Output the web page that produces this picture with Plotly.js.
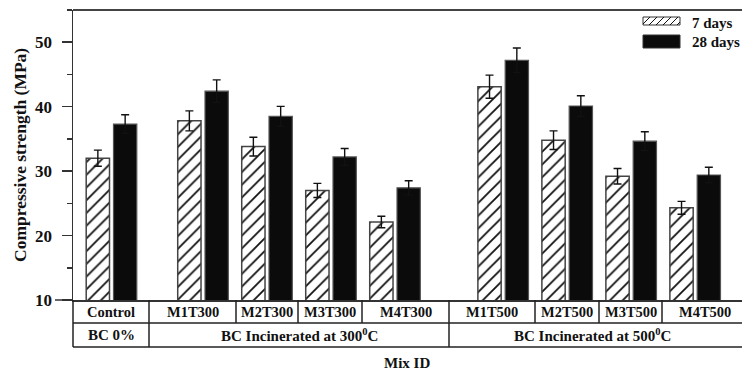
<!DOCTYPE html>
<html>
<head>
<meta charset="utf-8">
<script src="https://cdn.plot.ly/plotly-3.0.1.min.js"></script>
<style>html,body{margin:0;padding:0;overflow:hidden;background:#fff}#chart{width:760px;height:372px}</style>
</head>
<body>
<div id="chart"></div>
<script>
// ---- data ----
const mixIds = ["Control","M1T300","M2T300","M3T300","M4T300","M1T500","M2T500","M3T500","M4T500"];
const groupLabels = ["BC 0%","BC Incinerated at 300<sup>0</sup>C","BC Incinerated at 500<sup>0</sup>C"];
const days7 = [32.0, 37.8, 33.8, 27.0, 22.1, 43.1, 34.8, 29.2, 24.3];
const days7Err = [1.25, 1.55, 1.45, 1.1, 0.9, 1.8, 1.45, 1.2, 1.0];
const days28 = [37.3, 42.4, 38.5, 32.2, 27.4, 47.2, 40.1, 34.65, 29.4];
const days28Err = [1.45, 1.75, 1.55, 1.3, 1.1, 1.9, 1.6, 1.45, 1.2];
const seriesNames = ["7 days","28 days"];

// ---- layout geometry (pixels) ----
const W = 760, H = 372, L = 73, T = 10, B = 300;
const unitPx = 64, originPx = 111.5;
const xPos = [0, 1.43, 2.43, 3.43, 4.43, 6.12, 7.12, 8.12, 9.12];
const cellEdgesPx = [73, 149, 236, 298, 362, 449, 535, 599, 662, 748];
const groupEdgesPx = [73, 149, 449, 735];
const px2u = p => (p - originPx) / unitPx;
const xp = p => (p - L) / (W - L);
const yp = p => (B - p) / (B - T);
const FONT = "'Liberation Serif', 'Times New Roman', serif";
const barW = 23.3 / unitPx;

const traces = [
  {type:'bar', name:seriesNames[0], x:xPos, y:days7, width:barW, offset:-25.3/unitPx,
   marker:{color:'#ffffff', line:{color:'#444', width:1.5},
     pattern:{shape:'/', fgcolor:'#111', bgcolor:'#fff', size:9, solidity:0.2}},
   error_y:{type:'data', array:days7Err, visible:true, color:'#111', thickness:1.4, width:4},
   showlegend:false},
  {type:'bar', name:seriesNames[1], x:xPos, y:days28, width:barW, offset:2/unitPx,
   marker:{color:'#0b0b0b', line:{color:'#555', width:1.2}},
   error_y:{type:'data', array:days28Err, visible:true, color:'#111', thickness:1.4, width:4},
   showlegend:false}
];

const shapes = [];
const annotations = [];
const lineC = '#222';
shapes.push({type:'line', xref:'paper', yref:'paper', x0:0, x1:1, y0:1, y1:1, line:{color:'#444', width:2}});
shapes.push({type:'line', xref:'paper', yref:'paper', x0:xp(55), x1:0, y0:0, y1:0, line:{color:'#333', width:1.5}});
[323, 347].forEach(py => shapes.push({type:'line', xref:'paper', yref:'paper', x0:0, x1:1, y0:yp(py), y1:yp(py), line:{color:lineC, width:1.5}}));
shapes.push({type:'line', xref:'paper', yref:'paper', x0:0, x1:0, y0:yp(300), y1:yp(347), line:{color:lineC, width:1.5}});
cellEdgesPx.slice(1, -1).forEach(p => shapes.push({type:'line', xref:'paper', yref:'paper', x0:xp(p), x1:xp(p), y0:yp(300), y1:yp(323), line:{color:lineC, width:1.5}}));
groupEdgesPx.slice(1, -1).forEach(p => shapes.push({type:'line', xref:'paper', yref:'paper', x0:xp(p), x1:xp(p), y0:yp(323), y1:yp(347), line:{color:lineC, width:1.5}}));
const tf = s => ({family:FONT, size:s, color:'#111', weight:'bold'});
mixIds.forEach((m, i) => annotations.push({xref:'paper', yref:'paper', x:xp((cellEdgesPx[i]+cellEdgesPx[i+1])/2), y:yp(312),
  text:m, showarrow:false, xanchor:'center', yanchor:'middle', font:tf(14.5)}));
groupLabels.forEach((g, i) => annotations.push({xref:'paper', yref:'paper', x:xp((groupEdgesPx[i]+groupEdgesPx[i+1])/2), y:yp(335),
  text:g, showarrow:false, xanchor:'center', yanchor:'middle', font:tf(15)}));
annotations.push({xref:'paper', yref:'paper', x:xp(407), y:yp(363), text:'Mix ID', showarrow:false, xanchor:'center', yanchor:'middle', font:tf(15)});
annotations.push({xref:'paper', yref:'paper', x:xp(20.5), y:yp(155.5), text:'Compressive strength (MPa)', textangle:-90, showarrow:false,
  xanchor:'center', yanchor:'middle', font:tf(17.5)});

// custom legend
const sw = {x0:643, x1:680};
shapes.push({type:'rect', xref:'paper', yref:'paper', x0:xp(sw.x0), x1:xp(sw.x1), y0:yp(25), y1:yp(17), fillcolor:'#fff', line:{color:'#333', width:1}});
let hp = '';
for (let x0 = sw.x0 - 8; x0 < sw.x1; x0 += 7) {
  const top = 17, bot = 25, h = bot - top;
  let sx = x0, sy = bot, ex = x0 + h, ey = top;
  if (sx < sw.x0) { sy = bot - (sw.x0 - sx); sx = sw.x0; }
  if (ex > sw.x1) { ey = top + (ex - sw.x1); ex = sw.x1; }
  if (ex <= sx) continue;
  hp += `M${xp(sx)},${yp(sy)}L${xp(ex)},${yp(ey)}`;
}
shapes.push({type:'path', xref:'paper', yref:'paper', path:hp, line:{color:'#111', width:1}});
shapes.push({type:'rect', xref:'paper', yref:'paper', x0:xp(sw.x0), x1:xp(sw.x1), y0:yp(48), y1:yp(35), fillcolor:'#0b0b0b', line:{color:'#333', width:1}});
annotations.push({xref:'paper', yref:'paper', x:xp(690), y:yp(22.5), text:seriesNames[0], showarrow:false, xanchor:'left', yanchor:'middle', font:tf(15)});
annotations.push({xref:'paper', yref:'paper', x:xp(690), y:yp(41.5), text:seriesNames[1], showarrow:false, xanchor:'left', yanchor:'middle', font:tf(15)});

const layout = {
  width:W, height:H,
  margin:{l:L, r:0, t:T, b:H-B, pad:0},
  paper_bgcolor:'#fff', plot_bgcolor:'#fff',
  barmode:'overlay',
  showlegend:false,
  xaxis:{range:[px2u(L), px2u(W)], showgrid:false, zeroline:false, showticklabels:false, ticks:'',
    showline:true, linecolor:'#333', linewidth:1.5, fixedrange:true},
  yaxis:{range:[10,55], dtick:10, tick0:10, showgrid:false, zeroline:false, ticks:'outside', ticklen:10, tickwidth:1.5, tickcolor:'#333',
    minor:{ticks:'outside', ticklen:5, dtick:5, tickwidth:1.5, tickcolor:'#333', showgrid:false},
    showline:true, linecolor:'#333', linewidth:1.5, ticklabelstandoff:6,
    tickfont:tf(17), fixedrange:true},
  shapes:shapes, annotations:annotations
};
Plotly.newPlot('chart', traces, layout, {displayModeBar:false, staticPlot:true});
</script>
</body>
</html>
